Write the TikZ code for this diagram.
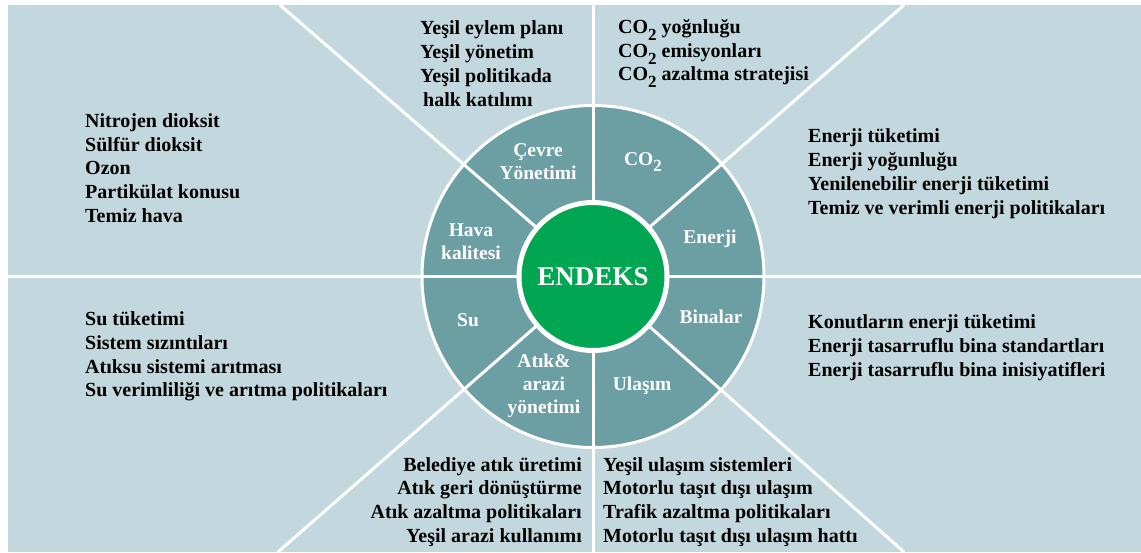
\documentclass[tikz,border=0pt]{standalone}
\usepackage{fontspec}
\setmainfont{Liberation Serif}
\definecolor{bgblue}{RGB}{195,216,222}
\definecolor{ringteal}{RGB}{108,159,164}
\definecolor{endgreen}{RGB}{0,166,81}
\newcommand{\cotwo}{CO\raisebox{-0.35em}{\fontsize{17}{17}\selectfont 2}}
\tikzset{
  itemtext/.style={font=\fontsize{20}{23.8}\selectfont\bfseries, align=left, inner sep=0pt, text=black},
  ringtext/.style={font=\fontsize{19.5}{23}\selectfont\bfseries, align=center, inner sep=0pt, text=white},
  divider/.style={draw=white, line width=3pt},
}
\begin{document}
\begin{tikzpicture}[x=1pt,y=-1pt]
\useasboundingbox (0,0) rectangle (1141,552);
\fill[bgblue] (8,5) rectangle (1141,552);
\coordinate (c) at (593,276.5);
% edge points of the dividers
\coordinate (eL) at (8,276.5);
\coordinate (eR) at (1141,276.5);
\coordinate (eT) at (593,5);
\coordinate (eB) at (593,552);
\coordinate (eTL) at (280,5);
\coordinate (eTR) at (904,5);
\coordinate (eBL) at (278,552);
\coordinate (eBR) at (904,552);
% ring
\fill[ringteal, draw=white, line width=3pt] (c) circle (171);
\foreach \e in {eL,eR,eT,eB,eTL,eTR,eBL,eBR} \draw[divider] (c) -- (\e);
% centre
\node[circle, fill=endgreen, draw=white, line width=5pt, minimum size=148pt, inner sep=0pt,
      font=\fontsize{27}{30}\selectfont\bfseries, text=white] (endeks) at (c) {ENDEKS};
% ring labels
\node[ringtext] (cevre) at (538,161.5) {Çevre\\Yönetimi};
\node[ringtext] (co2) at (643,162) {\cotwo};
\node[ringtext] (enerji) at (710,239) {Enerji};
\node[ringtext] (binalar) at (711,317) {Binalar};
\node[ringtext] (ulasim) at (642,386) {Ulaşım};
\node[ringtext] (atik) at (544,385.5) {Atık\&\\arazi\\yönetimi};
\node[ringtext] (su) at (468,320) {Su};
\node[ringtext] (hava) at (471,241.5) {Hava\\kalitesi};
% outer texts
\node[itemtext, anchor=west] (thava) at (85,168) {Nitrojen dioksit\\Sülfür dioksit\\Ozon\\Partikülat konusu\\Temiz hava};
\node[itemtext, anchor=west] (tcevre) at (420,63.5) {Yeşil eylem planı\\Yeşil yönetim\\Yeşil politikada\\\hspace*{3pt}halk katılımı};
\node[itemtext, anchor=west] (tco2) at (618,53.5) {\cotwo\ yoğnluğu\\\cotwo\ emisyonları\\\cotwo\ azaltma stratejisi};
\node[itemtext, anchor=west] (tenerji) at (808,173.5) {Enerji tüketimi\\Enerji yoğunluğu\\Yenilenebilir enerji tüketimi\\Temiz ve verimli enerji politikaları};
\node[itemtext, anchor=west] (tsu) at (85,356.5) {Su tüketimi\\Sistem sızıntıları\\Atıksu sistemi arıtması\\Su verimliliği ve arıtma politikaları};
\node[itemtext, anchor=west] (tbina) at (808,348) {Konutların enerji tüketimi\\Enerji tasarruflu bina standartları\\Enerji tasarruflu bina inisiyatifleri};
\node[itemtext, align=right, anchor=east] (tatik) at (582,502) {Belediye atık üretimi\\Atık geri dönüştürme\\Atık azaltma politikaları\\Yeşil arazi kullanımı};
\node[itemtext, anchor=west] (tulasim) at (603,502) {Yeşil ulaşım sistemleri\\Motorlu taşıt dışı ulaşım\\Trafik azaltma politikaları\\Motorlu taşıt dışı ulaşım hattı};
\end{tikzpicture}
\end{document}
